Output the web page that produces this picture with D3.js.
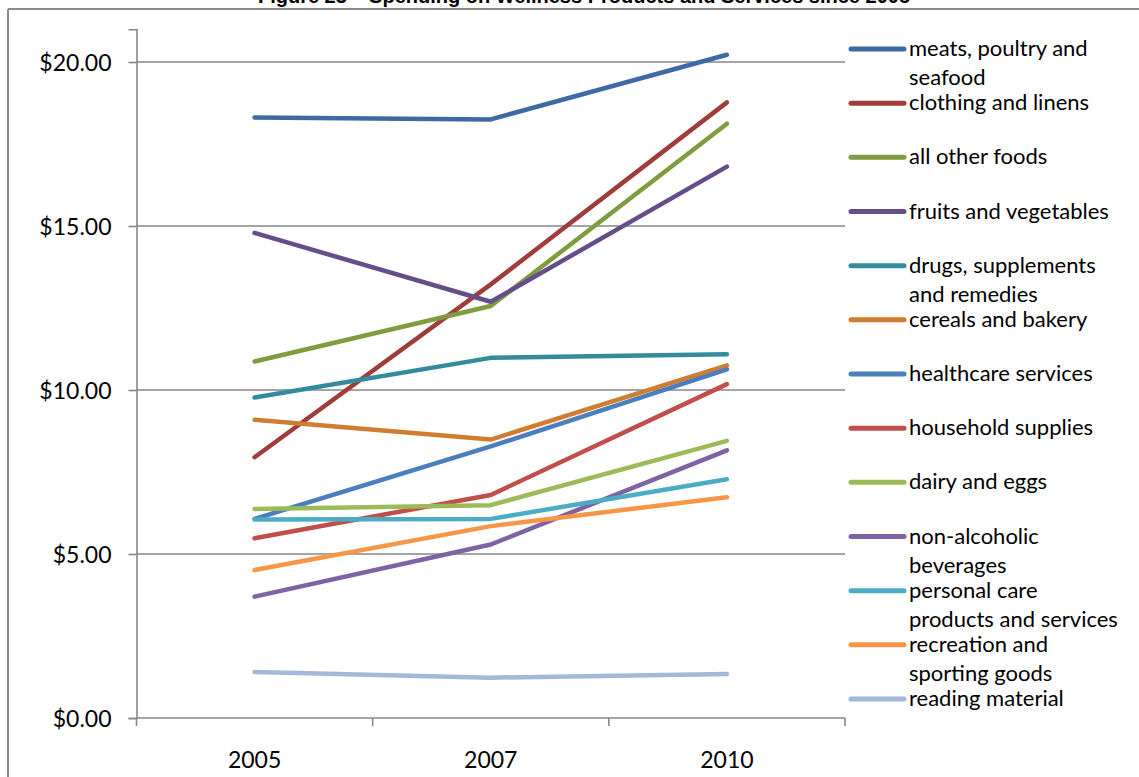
<!DOCTYPE html>
<html>
<head>
<meta charset="utf-8">
<script src="https://cdn.jsdelivr.net/npm/d3@7"></script>
<style>
  html, body { margin: 0; padding: 0; background: #fff; }
  svg { display: block; }
  .tick-label { font-family: Lato, "Open Sans", sans-serif; fill: #000; }
  .legend-label { font-family: Lato, "Open Sans", sans-serif; fill: #000; }
  .title { font-family: "Liberation Sans", Arial, sans-serif; font-weight: bold; fill: #000; }
</style>
</head>
<body>
<svg id="chart" width="1139" height="777"></svg>
<script>
// Survey years on the horizontal axis
const years = ["2005", "2007", "2010"];

// Spending categories, in legend order ("\n" marks a legend line break)
const categories = [
  "meats, poultry and\nseafood",
  "clothing and linens",
  "all other foods",
  "fruits and vegetables",
  "drugs, supplements\nand remedies",
  "cereals and bakery",
  "healthcare services",
  "household supplies",
  "dairy and eggs",
  "non-alcoholic\nbeverages",
  "personal care\nproducts and services",
  "recreation and\nsporting goods",
  "reading material"
];

// Spending per category, one value per year (2005, 2007, 2010)
const meats        = [18.31, 18.25, 20.22];
const clothing     = [7.95, 13.22, 18.77];
const otherFoods   = [10.87, 12.56, 18.12];
const fruitsVeg    = [14.79, 12.69, 16.81];
const drugs        = [9.77, 10.98, 11.09];
const cereals      = [9.09, 8.49, 10.75];
const healthcare   = [6.07, 8.28, 10.63];
const household    = [5.48, 6.80, 10.18];
const dairy        = [6.37, 6.49, 8.45];
const beverages    = [3.70, 5.29, 8.16];
const personalCare = [6.05, 6.07, 7.28];
const recreation   = [4.51, 5.85, 6.73];
const reading      = [1.40, 1.23, 1.34];

const seriesValues = [meats, clothing, otherFoods, fruitsVeg, drugs, cereals,
  healthcare, household, dairy, beverages, personalCare, recreation, reading];

// Y axis tick values
const yTicks = [0, 5, 10, 15, 20];

const colors = [
  "#3d6aa3", "#a03c39", "#7f9c40", "#654e88", "#358b9e", "#d17d31",
  "#4a7ebe", "#c04e4b", "#9bbb59", "#7e62a3", "#4bacc6", "#f79646", "#a5b8d8"
];

const svg = d3.select("#chart");
const W = 1139, H = 777;

// chart frame
const frameLeft = 8, frameTop = 9;
svg.append("line").attr("x1", frameLeft).attr("x2", W).attr("y1", frameTop).attr("y2", frameTop)
  .attr("stroke", "#8a8a8a").attr("stroke-width", 2);
svg.append("line").attr("x1", frameLeft).attr("x2", frameLeft).attr("y1", frameTop).attr("y2", H)
  .attr("stroke", "#8a8a8a").attr("stroke-width", 2);

// title (partly above the page edge)
svg.append("text").attr("class", "title")
  .attr("x", 584).attr("y", 3)
  .attr("text-anchor", "middle")
  .attr("font-size", 20)
  .text("Figure 23 \u2013 Spending on Wellness Products and Services since 2005");

// plot area
const plotLeft = 136.5, plotRight = 845, plotBottom = 718;
const x = d3.scaleBand().domain(years).range([plotLeft, plotRight]).padding(0);
const y = d3.scaleLinear().domain([0, 21]).range([plotBottom, plotBottom - 21 * 32.8]);

const axisColor = "#878787";

// horizontal gridlines
svg.append("g").selectAll("line").data(yTicks.filter(d => d > 0)).join("line")
  .attr("x1", plotLeft).attr("x2", plotRight)
  .attr("y1", d => y(d)).attr("y2", d => y(d))
  .attr("stroke", axisColor).attr("stroke-width", 1.6);

// y axis
const yAxis = svg.append("g").attr("transform", `translate(${plotLeft},0)`)
  .call(d3.axisLeft(y).tickValues(yTicks).tickSize(8).tickPadding(17)
    .tickFormat(d => "$" + d3.format(".2f")(d)));
yAxis.select(".domain").attr("stroke", axisColor).attr("stroke-width", 1.6);
yAxis.selectAll(".tick line").attr("stroke", axisColor).attr("stroke-width", 1.6);
yAxis.selectAll(".tick text").attr("class", "tick-label").attr("font-size", 23)
  .attr("font-family", null).attr("dy", "0.36em");

// x axis: baseline with ticks on category boundaries
const xAxisG = svg.append("g");
xAxisG.append("line").attr("x1", plotLeft).attr("x2", plotRight)
  .attr("y1", y(0)).attr("y2", y(0)).attr("stroke", axisColor).attr("stroke-width", 1.6);
const boundaries = years.map(d => x(d)).concat([x(years[years.length - 1]) + x.bandwidth()]);
xAxisG.selectAll("line.xt").data(boundaries).join("line").attr("class", "xt")
  .attr("x1", d => d).attr("x2", d => d)
  .attr("y1", y(0)).attr("y2", y(0) + 8)
  .attr("stroke", axisColor).attr("stroke-width", 1.6);
xAxisG.selectAll("text").data(years).join("text").attr("class", "tick-label")
  .attr("x", d => x(d) + x.bandwidth() / 2)
  .attr("y", y(0) + 50)
  .attr("text-anchor", "middle")
  .attr("font-size", 23)
  .text(d => d);

// series lines
const line = d3.line()
  .x((d, i) => x(years[i]) + x.bandwidth() / 2)
  .y(d => y(d));

svg.append("g").selectAll("path").data(seriesValues).join("path")
  .attr("d", d => line(d))
  .attr("fill", "none")
  .attr("stroke", (d, i) => colors[i])
  .attr("stroke-width", 4.5)
  .attr("stroke-linecap", "round")
  .attr("stroke-linejoin", "round");

// legend
const legendTop = 49, legendStep = 54.17;
const legend = svg.append("g");
const items = legend.selectAll("g").data(categories).join("g")
  .attr("transform", (d, i) => `translate(0,${legendTop + i * legendStep})`);
items.append("line")
  .attr("x1", 851).attr("x2", 904).attr("y1", 0).attr("y2", 0)
  .attr("stroke", (d, i) => colors[i])
  .attr("stroke-width", 5).attr("stroke-linecap", "round");
items.append("text").attr("class", "legend-label")
  .attr("font-size", 22)
  .each(function (d) {
    const t = d3.select(this);
    d.split("\n").forEach((ln, j) => {
      t.append("tspan").attr("x", 909).attr("y", 7 + j * 29).text(ln);
    });
  });
</script>
</body>
</html>
